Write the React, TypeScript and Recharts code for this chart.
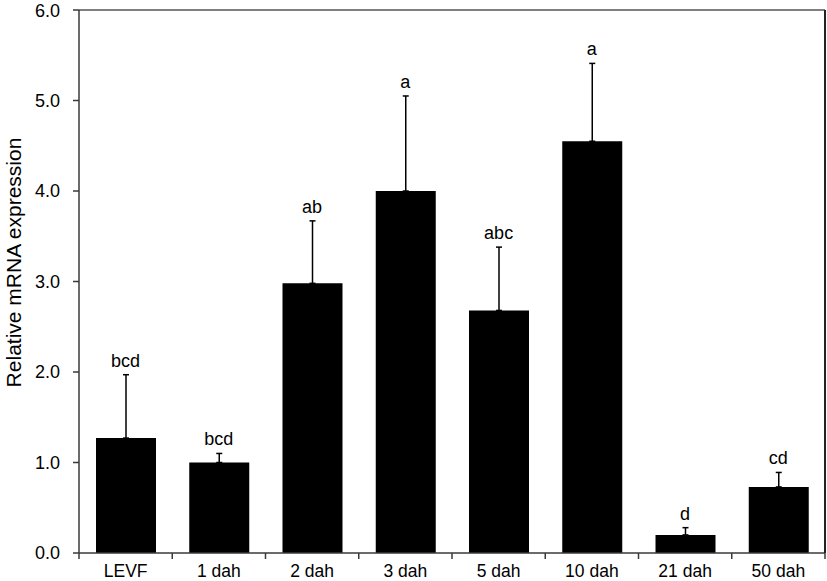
import { ComposedChart, Bar, Line, XAxis, YAxis, ErrorBar, LabelList, ReferenceLine } from 'recharts';

const categories = ['LEVF', '1 dah', '2 dah', '3 dah', '5 dah', '10 dah', '21 dah', '50 dah'];
const means = [1.27, 1.0, 2.98, 4.0, 2.68, 4.55, 0.2, 0.73];
const sems = [0.7, 0.1, 0.69, 1.05, 0.7, 0.86, 0.08, 0.16];
const letters = ['bcd', 'bcd', 'ab', 'a', 'abc', 'a', 'd', 'cd'];
const yTicks = [0, 1, 2, 3, 4, 5, 6];

const data = categories.map((name, i) => ({
  name,
  mean: means[i],
  err: [0, sems[i]],
  top: means[i] + sems[i],
  sig: letters[i]
}));

const FONT = '"Liberation Sans", Arial, sans-serif';
const AXIS = '#3a3a3a';

// category label at band centre, tick marks at band edges
const XTick = (props: any) => {
  const { x, y, payload, index, width } = props;
  const half = payload && payload.offset ? payload.offset : width / categories.length / 2;
  const last = index === categories.length - 1;
  return (
    <g>
      <line x1={x - half} x2={x - half} y1={y} y2={y + 6} stroke={AXIS} strokeWidth={1.5} />
      {last && <line x1={x + half} x2={x + half} y1={y} y2={y + 6} stroke={AXIS} strokeWidth={1.5} />}
      <text x={x} y={y + 24} textAnchor="middle" fontSize={17.5} fontFamily={FONT} fill="#000">
        {payload.value}
      </text>
    </g>
  );
};

const SigLabel = (props: any) => {
  const { x, y, index } = props;
  return (
    <text x={x} y={y - 8} textAnchor="middle" fontSize={18} fontFamily={FONT} fill="#000">
      {letters[index]}
    </text>
  );
};

const YTitle = (props: any) => {
  const { viewBox } = props;
  const cx = 21;
  const cy = viewBox.y + viewBox.height / 2 - 19;
  return (
    <text
      x={cx}
      y={cy}
      transform={`rotate(-90, ${cx}, ${cy})`}
      textAnchor="middle"
      fontSize={21}
      fontFamily={FONT}
      fill="#000"
    >
      Relative mRNA expression
    </text>
  );
};

export default function App() {
  return (
    <div style={{ position: 'absolute', left: 0, top: 0, background: '#fff' }}>
      <ComposedChart
        width={827}
        height={581}
        data={data}
        margin={{ top: 10, right: 1, left: 0, bottom: 0 }}
      >
        <XAxis
          dataKey="name"
          height={28}
          axisLine={{ stroke: AXIS, strokeWidth: 1.5 }}
          tickLine={false}
          tickSize={0}
          tickMargin={0}
          interval={0}
          tick={<XTick />}
        />
        <YAxis
          domain={[0, 6]}
          ticks={yTicks}
          width={79}
          axisLine={{ stroke: AXIS, strokeWidth: 1.5 }}
          tickLine={{ stroke: AXIS, strokeWidth: 1.5 }}
          tickSize={6}
          tickMargin={13}
          tickFormatter={(v: number) => v.toFixed(1)}
          tick={{ fill: '#000', fontSize: 18, fontFamily: FONT }}
          label={{ content: <YTitle /> }}
        />
        <YAxis
          yAxisId="right"
          orientation="right"
          domain={[0, 6]}
          allowDataOverflow
          width={1}
          axisLine={{ stroke: '#222', strokeWidth: 2 }}
          tick={false}
          tickLine={false}
        />
        <ReferenceLine y={6} stroke="#555" strokeWidth={1.5} />
        <Bar dataKey="mean" fill="#000" barSize={60} isAnimationActive={false}>
          <ErrorBar dataKey="err" direction="y" width={3} stroke="#000" strokeWidth={1.5} />
        </Bar>
        <Line
          yAxisId="right"
          dataKey="top"
          stroke="none"
          dot={false}
          activeDot={false}
          isAnimationActive={false}
        >
          <LabelList dataKey="sig" content={<SigLabel />} />
        </Line>
      </ComposedChart>
    </div>
  );
}
